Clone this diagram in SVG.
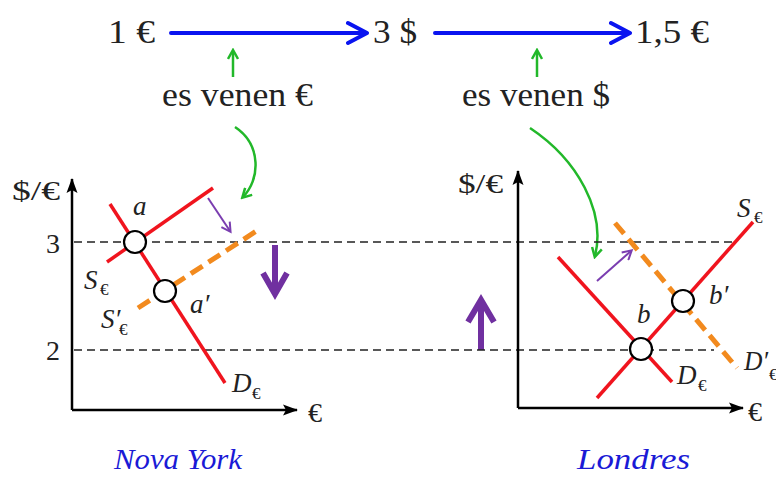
<svg xmlns="http://www.w3.org/2000/svg" width="776" height="477" viewBox="0 0 776 477">
<style>
  .txt { font-family: "Liberation Serif", "DejaVu Serif", serif; fill: #222; }
  .big { font-size: 34px; }
  .tick { font-size: 28px; }
  .it { font-family: "Liberation Serif", "DejaVu Serif", serif; font-style: italic; font-size: 27px; fill: #222; }
  .sub { font-family: "Liberation Serif", "DejaVu Serif", serif; font-size: 17px; fill: #222; }
  .city { font-family: "Liberation Serif", "DejaVu Serif", serif; font-style: italic; font-size: 30px; fill: #1a1ad6; }
  .axis { stroke: #000; stroke-width: 2.5; fill: none; }
  .guide { stroke: #222; stroke-width: 1.5; stroke-dasharray: 8 5; fill: none; }
  .curve { stroke: #f0141e; stroke-width: 3.5; fill: none; }
  .shift { stroke: #f28a1e; stroke-width: 5; stroke-dasharray: 14 7; fill: none; }
  .eq { fill: #fff; stroke: #000; stroke-width: 2.2; }
  .blue { stroke: #0a14f0; stroke-width: 4; fill: none; stroke-linecap: round; stroke-linejoin: round; }
  .green { stroke: #22b82a; stroke-width: 2.5; fill: none; }
  .thin { stroke: #7a3db0; stroke-width: 2; fill: none; }
  .fat { stroke: #7030a0; stroke-width: 6; fill: none; stroke-linejoin: miter; }
</style>
<defs>
  <marker id="ax" markerWidth="16" markerHeight="12" refX="14" refY="6" orient="auto" markerUnits="userSpaceOnUse">
    <path d="M0,0.5 L15,6 L0,11.5 L3,6 Z" fill="#000"/>
  </marker>
  <marker id="gr" markerWidth="12" markerHeight="12" refX="9" refY="6" orient="auto" markerUnits="userSpaceOnUse">
    <path d="M1,1 L10,6 L1,11" fill="none" stroke="#22b82a" stroke-width="2.5"/>
  </marker>
  <marker id="pu" markerWidth="12" markerHeight="12" refX="9" refY="6" orient="auto" markerUnits="userSpaceOnUse">
    <path d="M1,1 L10,6 L1,11" fill="none" stroke="#7a3db0" stroke-width="2"/>
  </marker>
</defs>

<g id="top-chain">
  <text class="txt big" x="108" y="43" textLength="47" lengthAdjust="spacingAndGlyphs">1 €</text>
  <text class="txt big" x="373" y="43" textLength="44" lengthAdjust="spacingAndGlyphs">3 $</text>
  <text class="txt big" x="635" y="43" textLength="74" lengthAdjust="spacingAndGlyphs">1,5 €</text>
  <text class="txt big" x="162" y="106" textLength="151" lengthAdjust="spacingAndGlyphs">es venen €</text>
  <text class="txt big" x="462" y="106" textLength="148" lengthAdjust="spacingAndGlyphs">es venen $</text>
</g>

<g id="connectors">
  <path class="blue" d="M171,33 L365,33 M348,23 L367,33 L348,43"/>
  <path class="blue" d="M435,33 L628,33 M611,23 L630,33 L611,43"/>
  <line class="green" x1="233" y1="77" x2="233" y2="51" marker-end="url(#gr)"/>
  <line class="green" x1="537" y1="77" x2="537" y2="51" marker-end="url(#gr)"/>
  <path class="green" d="M235,127 C262,145 260,180 243,197" marker-end="url(#gr)"/>
  <path class="green" d="M530,128 C578,160 606,212 595,256" marker-end="url(#gr)"/>
  <line class="thin" x1="208" y1="198" x2="230" y2="231" marker-end="url(#pu)"/>
  <line class="thin" x1="597" y1="281" x2="631" y2="251" marker-end="url(#pu)"/>
  <path class="fat" d="M275,245 L275,293 M263,273 L275,294 L287,273"/>
  <path class="fat" d="M481,350 L481,301 M468,322 L481,300 L494,322"/>
</g>

<g id="guides">
  <line class="guide" x1="74" y1="242" x2="736" y2="242"/>
  <line class="guide" x1="74" y1="350" x2="714" y2="350"/>
</g>

<g id="graph-ny">
  <line class="axis" x1="72" y1="410" x2="72" y2="179" marker-end="url(#ax)"/>
  <line class="axis" x1="72" y1="410" x2="297" y2="410" marker-end="url(#ax)"/>
  <text class="txt tick" x="12" y="200" textLength="48" lengthAdjust="spacingAndGlyphs">$/€</text>
  <text class="txt tick" x="46" y="253">3</text>
  <text class="txt tick" x="46" y="360">2</text>
  <text class="txt tick" x="308" y="422">€</text>
  <line class="curve" x1="107" y1="262" x2="213" y2="188"/>
  <line class="curve" x1="110" y1="204" x2="225" y2="383"/>
  <line class="shift" x1="138" y1="308" x2="258" y2="230"/>
  <circle class="eq" cx="135" cy="242" r="11"/>
  <circle class="eq" cx="165" cy="291" r="11"/>
  <text class="it" x="133" y="215">a</text>
  <text class="it" x="84" y="289">S</text><text class="sub" x="100" y="295">€</text>
  <text class="it" x="190" y="313">a′</text>
  <text class="it" x="101" y="328">S′</text><text class="sub" x="119" y="335">€</text>
  <text class="it" x="232" y="392">D</text><text class="sub" x="252" y="399">€</text>
  <text class="city" x="114" y="469" textLength="128" lengthAdjust="spacingAndGlyphs">Nova York</text>
</g>

<g id="graph-london">
  <line class="axis" x1="518" y1="408" x2="518" y2="171" marker-end="url(#ax)"/>
  <line class="axis" x1="518" y1="408" x2="743" y2="408" marker-end="url(#ax)"/>
  <text class="txt tick" x="458" y="193" textLength="45" lengthAdjust="spacingAndGlyphs">$/€</text>
  <text class="txt tick" x="748" y="421">€</text>
  <line class="curve" x1="597" y1="398" x2="753" y2="222"/>
  <line class="curve" x1="558" y1="257" x2="672" y2="382"/>
  <line class="shift" x1="615" y1="223" x2="737" y2="368"/>
  <circle class="eq" cx="641" cy="349" r="11"/>
  <circle class="eq" cx="683" cy="301" r="11"/>
  <text class="it" x="737" y="217">S</text><text class="sub" x="754" y="223">€</text>
  <text class="it" x="709" y="304">b′</text>
  <text class="it" x="637" y="323">b</text>
  <text class="it" x="677" y="384">D</text><text class="sub" x="698" y="391">€</text>
  <text class="it" x="744" y="370" textLength="24" lengthAdjust="spacingAndGlyphs">D′</text><text class="sub" x="769" y="380">€</text>
  <text class="city" x="577" y="469" textLength="113" lengthAdjust="spacingAndGlyphs">Londres</text>
</g>
</svg>
